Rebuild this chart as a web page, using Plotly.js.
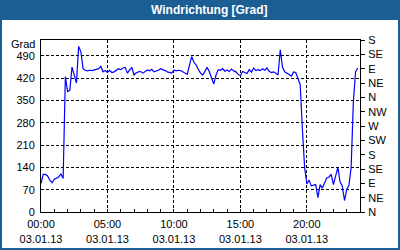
<!DOCTYPE html>
<html>
<head>
<meta charset="utf-8">
<script src="https://cdn.plot.ly/plotly-3.0.1.min.js"></script>
<style>html,body{margin:0;padding:0;background:#fff}#chart{width:400px;height:250px}</style>
</head>
<body>
<div id="chart"></div>
<script>
// Wind direction in degrees (extended 0..540 scale), 10-minute samples on 03.01.13
var startTime = '2013-01-03T00:00:00';
var stepMinutes = 10;
var windDir = [
  90,118,118,113,100,92,103,106,110,120,
  105,425,378,382,455,430,405,520,503,450,
  445,443,445,444,446,450,450,457,440,444,
  438,445,438,440,445,450,447,452,454,436,
  446,454,430,437,440,441,436,442,446,443,
  448,440,442,445,450,448,444,440,438,436,
  445,443,445,444,440,437,432,460,488,470,
  462,448,436,430,441,454,440,420,402,430,
  447,445,450,442,446,441,449,443,440,432,
  428,441,438,435,447,439,452,444,447,444,
  450,445,452,442,438,440,436,430,509,455,
  440,437,432,427,440,438,420,400,260,140,
  88,100,82,85,86,45,86,75,90,107,
  110,118,86,110,140,95,82,36,70,84,
  140,345,440,452
];
var leftTicks = [0,70,140,210,280,350,420,490];
var rightTickVals = [0,45,90,135,180,225,270,315,360,405,450,495,540];
var rightTickText = ['N','NE','E','SE','S','SW','W','NW','N','NE','E','SE','S'];
var xTickVals = ['2013-01-03 00:00','2013-01-03 05:00','2013-01-03 10:00','2013-01-03 15:00','2013-01-03 20:00'];
var xTickText = ['00:00<br>03.01.13','05:00<br>03.01.13','10:00<br>03.01.13','15:00<br>03.01.13','20:00<br>03.01.13'];
var titleText = 'Windrichtung [Grad]';
var unitText = 'Grad';

function pad(n){return (n<10?'0':'')+n;}
var times = [];
var t0 = new Date(startTime + 'Z').getTime();
for (var i = 0; i < windDir.length; i++) {
  var d = new Date(t0 + i*stepMinutes*60000);
  times.push(d.getUTCFullYear()+'-'+pad(d.getUTCMonth()+1)+'-'+pad(d.getUTCDate())+' '+pad(d.getUTCHours())+':'+pad(d.getUTCMinutes()));
}

var L=41, R=360, T=40, B=212, W=400, H=250;
function px(x){return (x-L)/(R-L);}
function py(y){return (B-y)/(B-T);}
var blue = '#1c5e93';
var font = {family:'Liberation Sans, Arial, sans-serif', size:11, color:'#000'};

var trace = {
  x: times, y: windDir, type:'scatter', mode:'lines',
  line:{color:'#0000ff', width:1.2}, hoverinfo:'skip', showlegend:false
};
var dummy = {x:[times[0]], y:[0], yaxis:'y2', type:'scatter', mode:'lines', line:{width:0}, hoverinfo:'skip', showlegend:false};

var layout = {
  width:W, height:H,
  margin:{l:L, r:W-R, t:T, b:H-B, pad:0},
  paper_bgcolor:'#ffffff', plot_bgcolor:'#ffffff',
  font:font, showlegend:false, hovermode:false,
  xaxis:{
    type:'date', range:['2013-01-03 00:00','2013-01-04 00:00'],
    tickmode:'array', tickvals:xTickVals, ticktext:xTickText,
    ticks:'inside', ticklen:3, tickcolor:'#000', tickwidth:1, ticklabelstandoff:2,
    showgrid:true, gridcolor:'#000', gridwidth:1, griddash:'3px,2px',
    showline:true, linecolor:'#000', linewidth:1, mirror:true,
    zeroline:false, fixedrange:true, tickfont:font,
    minor:{tickmode:'linear', tick0:'2013-01-03 00:00', dtick:3600000, ticks:'inside', ticklen:3, tickcolor:'#000', tickwidth:1, showgrid:false}
  },
  yaxis:{
    range:[0,540], tickmode:'array', tickvals:leftTicks, ticktext:leftTicks.map(String),
    ticks:'', ticklabelstandoff:3,
    showgrid:true, gridcolor:'#000', gridwidth:1, griddash:'3px,2px',
    showline:true, linecolor:'#000', linewidth:1, mirror:true,
    zeroline:false, fixedrange:true, tickfont:font
  },
  yaxis2:{
    overlaying:'y', side:'right', range:[0,540],
    tickmode:'array', tickvals:rightTickVals, ticktext:rightTickText,
    ticks:'outside', ticklen:4, tickcolor:'#000', tickwidth:1, ticklabelstandoff:1,
    showgrid:false, showline:true, linecolor:'#000', linewidth:1,
    zeroline:false, fixedrange:true, tickfont:font
  },
  shapes:[
    {type:'rect', xref:'paper', yref:'paper', layer:'below',
     x0:px(0), x1:px(400), y0:py(20), y1:py(0), fillcolor:blue, line:{width:0}},
    {type:'rect', xref:'paper', yref:'paper', layer:'below',
     x0:px(1), x1:px(399), y0:py(249), y1:py(1), fillcolor:'rgba(0,0,0,0)', line:{color:blue, width:2}}
  ],
  annotations:[
    {text:titleText, xref:'paper', yref:'paper', x:px(209), y:py(10.5), xanchor:'center', yanchor:'middle',
     showarrow:false, font:{family:'Liberation Sans, Arial, sans-serif', size:12, color:'#ffffff', weight:'bold'}},
    {text:unitText, xref:'paper', yref:'y', x:px(37), y:529, xanchor:'right', yanchor:'middle',
     showarrow:false, font:font}
  ]
};
Plotly.newPlot('chart', [trace, dummy], layout, {displayModeBar:false, staticPlot:true});
</script>
</body>
</html>
